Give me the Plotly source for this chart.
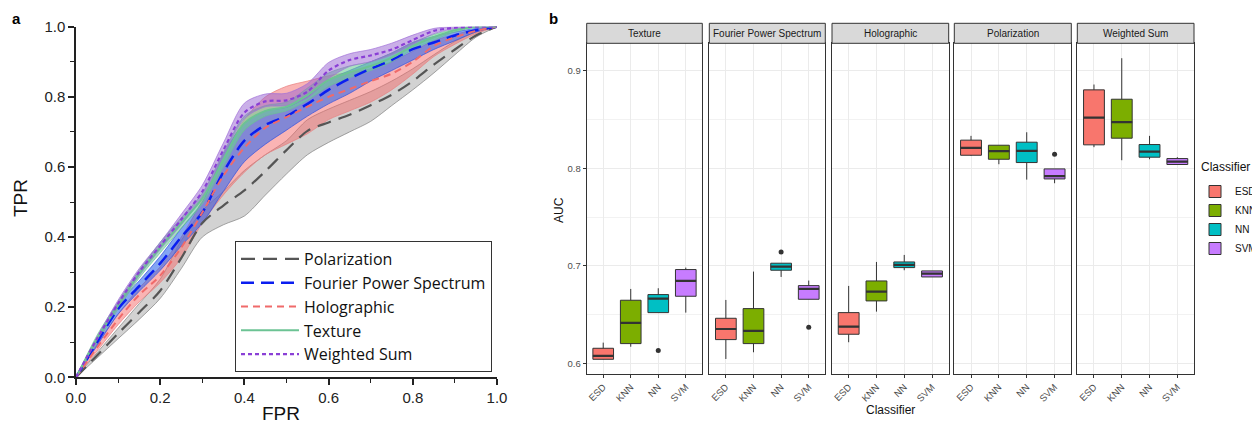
import plotly.graph_objects as go

W, H = 1260, 423
OFF = 8  # page body margin of the browser

# ---------------- Panel a data (ROC curves) ----------------
FPR = [0, .05, .1, .15, .2, .25, .3, .35, .4, .45, .5, .55, .6, .65, .7, .75, .8, .85, .9, .95, 1]

POL_MEAN = [0, .062, .125, .185, .247, .34, .44, .49, .533, .588, .648, .703, .727, .749, .776, .806, .845, .892, .935, .975, 1]
POL_LOW = [0, .055, .11, .165, .225, .31, .40, .435, .46, .52, .58, .635, .67, .70, .73, .775, .82, .868, .92, .97, 1]
POL_HIGH = [0, .07, .14, .21, .28, .39, .475, .53, .59, .635, .675, .735, .765, .79, .815, .845, .88, .92, .958, .985, 1]

HOL_MEAN = [0, .085, .165, .235, .29, .37, .47, .575, .655, .712, .742, .772, .80, .822, .845, .866, .90, .945, .97, .988, 1]
HOL_LOW = [0, .075, .15, .215, .27, .34, .44, .52, .585, .635, .665, .695, .735, .76, .785, .82, .865, .915, .95, .98, 1]
HOL_HIGH = [0, .095, .18, .255, .315, .40, .505, .63, .735, .80, .83, .845, .86, .87, .88, .90, .93, .96, .978, .992, 1]

FPS_MEAN = [0, .10, .195, .26, .325, .40, .47, .585, .675, .72, .745, .78, .82, .852, .88, .905, .936, .955, .975, .99, 1]
FPS_LOW = [0, .09, .18, .245, .305, .375, .44, .53, .615, .665, .705, .745, .78, .81, .845, .875, .905, .935, .96, .985, 1]
FPS_HIGH = [0, .11, .21, .275, .345, .425, .50, .635, .725, .76, .77, .80, .848, .875, .90, .925, .955, .972, .985, .995, 1]

TEX_MEAN = [0, .11, .205, .295, .37, .44, .51, .62, .725, .76, .772, .805, .848, .87, .888, .912, .945, .97, .99, 1, 1]
TEX_LOW = [0, .10, .195, .283, .355, .425, .495, .60, .705, .745, .76, .79, .83, .855, .875, .90, .935, .962, .985, .998, 1]
TEX_HIGH = [0, .12, .215, .305, .385, .455, .525, .64, .745, .775, .785, .825, .868, .888, .90, .925, .955, .978, .993, 1, 1]

WS_MEAN = [0, .11, .21, .30, .375, .45, .53, .648, .755, .787, .79, .815, .875, .905, .918, .935, .962, .988, .997, 1, 1]
WS_LOW = [0, .105, .2, .29, .365, .435, .515, .632, .738, .772, .775, .798, .852, .887, .90, .92, .95, .98, .995, 1, 1]
WS_HIGH = [0, .115, .22, .31, .385, .465, .548, .668, .782, .808, .81, .838, .898, .923, .935, .953, .976, .995, 1, 1, 1]

# ---------------- Panel b data (AUC boxplots) ----------------
PANELS = ["Texture", "Fourier Power Spectrum", "Holographic", "Polarization", "Weighted Sum"]
CLASSIFIERS = ["ESD", "KNN", "NN", "SVM"]
LOWER = [[.604, .617, .652, .652], [.6044, .6113, .6886, .6657], [.6216, .653, .6955, .6886],
         [.8129, .8043, .7885, .7848], [.8218, .8084, .8094, .804]]
Q1 = [[.6041, .6202, .652, .6688], [.6243, .6202, .6955, .6657], [.6298, .664, .6982, .6886],
      [.8135, .8094, .806, .7892], [.8242, .831, .8115, .804]]
MEDIAN = [[.6075, .6414, .6664, .6845], [.6352, .6332, .6992, .6763], [.6376, .6736, .701, .692],
          [.8211, .8177, .818, .792], [.8522, .8474, .8173, .807]]
Q3 = [[.6154, .6647, .6705, .6962], [.6462, .6561, .7027, .6797], [.652, .6845, .704, .6948],
      [.829, .8238, .8269, .7995], [.8806, .871, .8245, .8101]]
UPPER = [[.6212, .6763, .677, .6982], [.665, .6941, .7027, .6849], [.6794, .704, .7112, .6948],
         [.8334, .8238, .8371, .7995], [.8861, .9131, .8334, .8115]]
OUT_PANEL = [0, 1, 1, 3]
OUT_CLASS = [2, 2, 3, 3]
OUT_VALUE = [.613, .7143, .637, .8146]

CLS_COLORS = ["#F8766D", "#7CAE00", "#00BFC4", "#C77CFF"]
FONT = "Liberation Sans, Arial, sans-serif"

fig = go.Figure()

def px_x(p):
    return (p - OFF) / W

def px_y(p):
    return (H - (p - OFF)) / H

# ---------------- Panel a ----------------
series = [
    ("Polarization", POL_MEAN, POL_LOW, POL_HIGH, "#555555", "rgba(165,165,165,0.5)", "#808080", "14px,8px", 2.2),
    ("Holographic", HOL_MEAN, HOL_LOW, HOL_HIGH, "#F06A6A", "rgba(245,105,105,0.5)", "#E88080", "7px,5px", 2.0),
    ("Fourier Power Spectrum", FPS_MEAN, FPS_LOW, FPS_HIGH, "#0A1EF0", "rgba(50,105,235,0.6)", "#3050E0", "13px,7px", 2.5),
    ("Texture", TEX_MEAN, TEX_LOW, TEX_HIGH, "#6CC394", "rgba(110,205,150,0.6)", "#6CC394", "solid", 2.0),
    ("Weighted Sum", WS_MEAN, WS_LOW, WS_HIGH, "#8A3FD6", "rgba(150,95,210,0.5)", "#A070D8", "4px,3px", 2.2),
]
for name, mean, low, high, lc, fc, ec, dash, lw in series:
    fig.add_trace(go.Scatter(x=FPR, y=low, mode="lines", line=dict(color=ec, width=0.7, shape="spline", smoothing=0.8),
                             showlegend=False, hoverinfo="skip", xaxis="x", yaxis="y"))
    fig.add_trace(go.Scatter(x=FPR, y=high, mode="lines", fill="tonexty", fillcolor=fc,
                             line=dict(color=ec, width=0.7, shape="spline", smoothing=0.8),
                             showlegend=False, hoverinfo="skip", xaxis="x", yaxis="y"))

legend_order = ["Polarization", "Fourier Power Spectrum", "Holographic", "Texture", "Weighted Sum"]
smap = {s[0]: s for s in series}
for name in legend_order:
    _, mean, low, high, lc, fc, ec, dash, lw = smap[name]
    fig.add_trace(go.Scatter(x=FPR, y=mean, mode="lines", name=name,
                             line=dict(color=lc, width=lw, dash=dash, shape="spline", smoothing=0.8),
                             xaxis="x", yaxis="y", legend="legend"))

# ---------------- Panel b ----------------
panel_x = [(586.7, 702.3), (709.3, 825.3), (832.0, 948.7), (954.3, 1071.3), (1077.3, 1194.0)]
panel_top, panel_bot = 43.3, 374.0
strip_top = 23.3
BW = 0.75

for p, pname in enumerate(PANELS):
    ax = str(p + 2)
    for c, cname in enumerate(CLASSIFIERS):
        fig.add_trace(go.Box(
            x=[c], q1=[Q1[p][c]], median=[MEDIAN[p][c]], q3=[Q3[p][c]],
            lowerfence=[LOWER[p][c]], upperfence=[UPPER[p][c]],
            width=BW, whiskerwidth=0, fillcolor=CLS_COLORS[c],
            line=dict(color="#333333", width=1), boxpoints=False,
            name=cname, legendgroup=cname, showlegend=(p == 0), legend="legend2",
            xaxis="x" + ax, yaxis="y" + ax, hoverinfo="skip"))
        fig.add_trace(go.Scatter(
            x=[c - BW / 2, c + BW / 2], y=[MEDIAN[p][c], MEDIAN[p][c]], mode="lines",
            line=dict(color="#333333", width=2.2), showlegend=False, hoverinfo="skip",
            xaxis="x" + ax, yaxis="y" + ax))
    ox = [OUT_CLASS[i] for i in range(len(OUT_VALUE)) if OUT_PANEL[i] == p]
    oy = [OUT_VALUE[i] for i in range(len(OUT_VALUE)) if OUT_PANEL[i] == p]
    if ox:
        fig.add_trace(go.Scatter(x=ox, y=oy, mode="markers", marker=dict(color="#333333", size=5),
                                 showlegend=False, hoverinfo="skip", xaxis="x" + ax, yaxis="y" + ax))

layout = dict(
    width=W, height=H, margin=dict(l=0, r=0, t=0, b=0, autoexpand=False),
    paper_bgcolor="white", plot_bgcolor="white",
    font=dict(family=FONT, color="#222222"),
    boxmode="overlay",
    xaxis=dict(domain=[px_x(76), px_x(497)], range=[0, 1], dtick=0.2, tick0=0, tickformat=".1f",
               ticks="outside", ticklen=6, tickwidth=1.5, tickcolor="#222",
               minor=dict(dtick=0.1, ticks="outside", ticklen=4, tickwidth=1.2, tickcolor="#222"),
               showline=True, linewidth=1.5, linecolor="#222", showgrid=False, zeroline=False,
               tickfont=dict(size=15, color="#222"), anchor="y", automargin=False),
    yaxis=dict(domain=[px_y(377.3), px_y(26.7)], range=[0, 1], dtick=0.2, tick0=0, tickformat=".1f",
               ticks="outside", ticklen=6, tickwidth=1.5, tickcolor="#222",
               minor=dict(dtick=0.1, ticks="outside", ticklen=4, tickwidth=1.2, tickcolor="#222"),
               showline=True, linewidth=1.5, linecolor="#222", showgrid=False, zeroline=False,
               tickfont=dict(size=15, color="#222"), anchor="x", automargin=False),
    legend=dict(x=px_x(235), y=px_y(241), xanchor="left", yanchor="top", traceorder="normal",
                bgcolor="white", bordercolor="#333", borderwidth=1,
                font=dict(size=16, color="#111", family="Open Sans, Liberation Sans, sans-serif"), itemwidth=58,
                tracegroupgap=0),
    legend2=dict(x=px_x(1195), y=px_y(177), xanchor="left", yanchor="top", traceorder="normal",
                 font=dict(size=10, color="#111", family=FONT), bgcolor="rgba(0,0,0,0)",
                 itemwidth=30, tracegroupgap=0),
)

shapes = []
annotations = []
for p, pname in enumerate(PANELS):
    ax = str(p + 2)
    x0, x1 = panel_x[p]
    layout["xaxis" + ax] = dict(
        domain=[px_x(x0), px_x(x1)], range=[-0.6, 3.6], tickmode="array",
        tickvals=list(range(len(CLASSIFIERS))), ticktext=CLASSIFIERS, tickangle=-45,
        ticks="outside", ticklen=3, tickcolor="#333", showgrid=True, gridcolor="#EBEBEB", gridwidth=1,
        showline=True, mirror=True, linecolor="#333333", linewidth=1, zeroline=False,
        tickfont=dict(size=9.5, color="#4D4D4D"), anchor="y" + ax, automargin=False)
    layout["yaxis" + ax] = dict(
        domain=[px_y(panel_bot), px_y(panel_top)], range=[0.589, 0.9284],
        tickvals=[0.6, 0.7, 0.8, 0.9], ticktext=["0.6", "0.7", "0.8", "0.9"],
        showticklabels=(p == 0), ticks="outside" if p == 0 else "", ticklen=3, tickcolor="#333",
        showgrid=True, gridcolor="#EBEBEB", gridwidth=1,
        minor=dict(tickvals=[0.65, 0.75, 0.85], showgrid=True, gridcolor="#F2F2F2", gridwidth=0.6),
        showline=True, mirror=True, linecolor="#333333", linewidth=1, zeroline=False,
        tickfont=dict(size=9.5, color="#4D4D4D"), anchor="x" + ax, automargin=False)
    shapes.append(dict(type="rect", xref="x" + ax + " domain", yref="paper",
                       x0=0, x1=1, y0=px_y(panel_top), y1=px_y(strip_top),
                       fillcolor="#D9D9D9", line=dict(color="#333333", width=1), layer="above"))
    annotations.append(dict(text=pname, xref="x" + ax + " domain", yref="paper", x=0.5,
                            y=px_y((panel_top + strip_top) / 2), showarrow=False,
                            font=dict(size=10, color="#1A1A1A"), xanchor="center", yanchor="middle"))

annotations += [
    dict(text="<b>a</b>", xref="paper", yref="paper", x=px_x(10), y=px_y(18), showarrow=False,
         font=dict(size=15, color="#000"), xanchor="left", yanchor="middle"),
    dict(text="<b>b</b>", xref="paper", yref="paper", x=px_x(547), y=px_y(18), showarrow=False,
         font=dict(size=15, color="#000"), xanchor="left", yanchor="middle"),
    dict(text="TPR", xref="paper", yref="paper", x=px_x(20), y=px_y(198), showarrow=False, textangle=-90,
         font=dict(size=19, color="#111"), xanchor="center", yanchor="middle"),
    dict(text="FPR", xref="paper", yref="paper", x=px_x(281), y=px_y(413), showarrow=False,
         font=dict(size=19, color="#111"), xanchor="center", yanchor="middle"),
    dict(text="AUC", xref="paper", yref="paper", x=px_x(559), y=px_y(210), showarrow=False, textangle=-90,
         font=dict(size=12, color="#111"), xanchor="center", yanchor="middle"),
    dict(text="Classifier", xref="paper", yref="paper", x=px_x(890), y=px_y(410), showarrow=False,
         font=dict(size=12, color="#111"), xanchor="center", yanchor="middle"),
    dict(text="Classifier", xref="paper", yref="paper", x=px_x(1199), y=px_y(167), showarrow=False,
         font=dict(size=12, color="#111"), xanchor="left", yanchor="middle"),
]
layout["shapes"] = shapes
layout["annotations"] = annotations
fig.update_layout(**layout)

fig.write_html("out.html")
